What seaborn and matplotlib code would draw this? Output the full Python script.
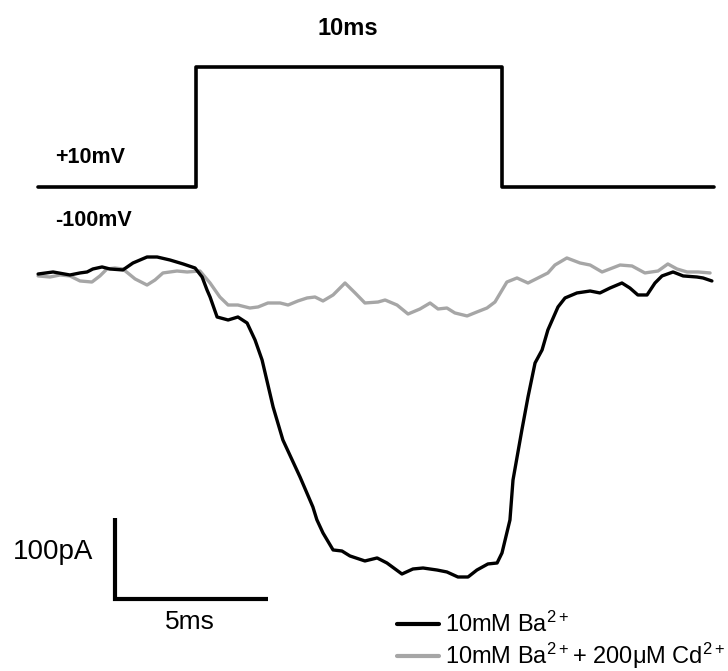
import matplotlib
matplotlib.use("Agg")
import matplotlib.pyplot as plt
import numpy as np
import pandas as pd
import seaborn as sns

sns.set_theme(style="white")
plt.rcParams["font.family"] = ["Liberation Sans", "DejaVu Sans"]
plt.rcParams["mathtext.default"] = "regular"
plt.rcParams["text.color"] = "black"

# Voltage protocol (ms, mV): hold at -100 mV, step to +10 mV for 10 ms
v_time = [-5.16, 0.0, 0.0, 10.0, 10.0, 16.93]
v_mv = [-100, -100, 10, 10, -100, -100]

# Inward current in 10 mM Ba2+ (ms, pA)
ba_time = [-5.16, -4.67, -4.12, -3.79, -3.56, -3.37, -3.07, -2.81, -2.39, -2.06,
           -1.60, -1.27, -0.85, -0.42, -0.03, 0.20, 0.36, 0.46, 0.69, 1.05,
           1.37, 1.67, 1.93, 2.16, 2.52, 2.84, 3.40, 3.82, 3.95, 4.15,
           4.48, 4.77, 5.03, 5.52, 5.92, 6.24, 6.73, 7.09, 7.42, 7.88,
           8.20, 8.56, 8.89, 9.18, 9.54, 9.84, 10.00, 10.26, 10.36, 10.65,
           10.85, 11.08, 11.31, 11.50, 11.83, 12.06, 12.45, 12.88, 13.20, 13.53,
           13.92, 14.18, 14.44, 14.74, 15.00, 15.23, 15.59, 15.92, 16.37, 16.57,
           16.86]
ba_pa = [-2.5, 0.0, -3.7, -1.2, 0.0, 3.7, 6.2, 3.7, 2.5, 11.1,
         18.5, 18.5, 14.8, 9.9, 4.9, -6.2, -22.2, -30.9, -55.6, -59.3,
         -55.6, -63.0, -84.0, -108.7, -166.7, -207.5, -253.2, -290.2, -306.0, -322.3,
         -343.3, -344.6, -350.7, -356.9, -353.2, -359.4, -373.0, -366.8, -365.6, -368.1,
         -370.5, -376.7, -376.7, -368.1, -360.6, -359.4, -347.0, -306.3, -256.9, -195.1,
         -154.4, -112.4, -96.3, -71.6, -43.2, -32.1, -25.9, -23.5, -25.9, -19.8,
         -13.6, -19.8, -28.4, -28.4, -13.6, -4.9, 0.0, -4.9, -6.2, -7.4,
         -11.1]

# Current after adding 200 uM Cd2+ (ms, pA)
cd_time = [-5.16, -4.77, -4.44, -4.12, -3.79, -3.40, -3.14, -2.91, -2.65, -2.39,
           -1.99, -1.60, -1.34, -1.08, -0.62, -0.29, 0.13, 0.46, 0.78, 1.05,
           1.37, 1.76, 2.03, 2.35, 2.75, 3.01, 3.33, 3.63, 3.89, 4.15,
           4.48, 4.87, 5.20, 5.52, 5.95, 6.18, 6.57, 6.93, 7.32, 7.65,
           7.91, 8.20, 8.46, 8.86, 9.18, 9.51, 9.77, 10.16, 10.49, 10.85,
           11.24, 11.50, 11.73, 12.12, 12.55, 12.88, 13.27, 13.86, 14.25, 14.67,
           15.10, 15.42, 15.72, 16.05, 16.41, 16.80]
cd_pa = [-4.9, -6.2, -3.7, -4.9, -11.1, -12.4, -4.9, 3.7, 4.9, 3.7,
         -8.6, -16.1, -9.9, -1.2, 1.2, 0.0, 1.2, -13.6, -30.9, -40.8,
         -40.8, -44.5, -43.2, -38.3, -38.3, -40.8, -35.8, -32.1, -30.9, -35.8,
         -28.4, -13.6, -25.9, -38.3, -37.1, -34.6, -40.8, -51.9, -45.7, -38.3,
         -45.7, -44.5, -50.6, -54.3, -49.4, -44.5, -37.1, -12.4, -7.4, -13.6,
         -6.2, -1.2, 8.6, 17.3, 11.1, 8.6, 0.0, 8.6, 7.4, -1.2,
         1.2, 9.9, 3.7, 0.0, 0.0, -1.2]

labels = ["10mM Ba$^{2+}$", "10mM Ba$^{2+}$+ 200μM Cd$^{2+}$"]
trace_colors = ["black", "#a6a6a6"]

# Scale bar: 5 ms x 100 pA, corner at (SCALE_T0, SCALE_I0)
SCALE_T0, SCALE_I0 = -2.65, -404.0
SCALE_MS, SCALE_PA = 5.0, 100.0

currents = pd.concat([
    pd.DataFrame({"t": ba_time, "i": ba_pa, "cond": labels[0]}),
    pd.DataFrame({"t": cd_time, "i": cd_pa, "cond": labels[1]}),
], ignore_index=True)
protocol = pd.DataFrame({"t": v_time, "v": v_mv})

fig = plt.figure(figsize=(7.28, 6.71), dpi=100)
ax = fig.add_axes([0, 0, 1, 1])
axv = fig.add_axes([0, 0, 1, 1])
for a in (ax, axv):
    a.set_axis_off()
    a.patch.set_alpha(0)
    a.set_xlim(-6.405, 17.386)
ax.set_ylim(-492.8, 335.9)
axv.set_ylim(-543.7, 71.4)

# Current traces (Cd2+ trace first so the Ba2+ trace lies on top)
sns.lineplot(data=currents[currents["cond"] == labels[1]], x="t", y="i",
             color=trace_colors[1], lw=2.4, sort=False, estimator=None, ax=ax,
             legend=False)
sns.lineplot(data=currents[currents["cond"] == labels[0]], x="t", y="i",
             color=trace_colors[0], lw=2.4, sort=False, estimator=None, ax=ax,
             legend=False)

# Voltage step
sns.lineplot(data=protocol, x="t", y="v", color="black", lw=2.6, sort=False,
             estimator=None, ax=axv, legend=False)

# Scale bars
ax.plot([SCALE_T0, SCALE_T0, SCALE_T0 + SCALE_MS],
        [SCALE_I0 + SCALE_PA, SCALE_I0, SCALE_I0],
        color="black", lw=3.0, solid_joinstyle="miter", solid_capstyle="butt")

fig.text(0.478, 0.958, "10ms", ha="center", va="center", fontsize=17, fontweight="bold")
fig.text(0.0755, 0.766, "+10mV", ha="left", va="center", fontsize=15.5, fontweight="bold")
fig.text(0.0755, 0.671, "-100mV", ha="left", va="center", fontsize=15.5, fontweight="bold")
fig.text(0.018, 0.177, "100pA", ha="left", va="center", fontsize=20)
fig.text(0.261, 0.073, "5ms", ha="center", va="center", fontsize=19)

handles = [plt.Line2D([], [], color=c, lw=3) for c in trace_colors]
fig.legend(handles, labels, loc="upper left", bbox_to_anchor=(0.545, 0.088),
           frameon=False, fontsize=17, handlelength=1.8, handletextpad=0.25,
           labelspacing=0.15, borderpad=0, borderaxespad=0)

fig.savefig("out.png", dpi=100, facecolor="white")
